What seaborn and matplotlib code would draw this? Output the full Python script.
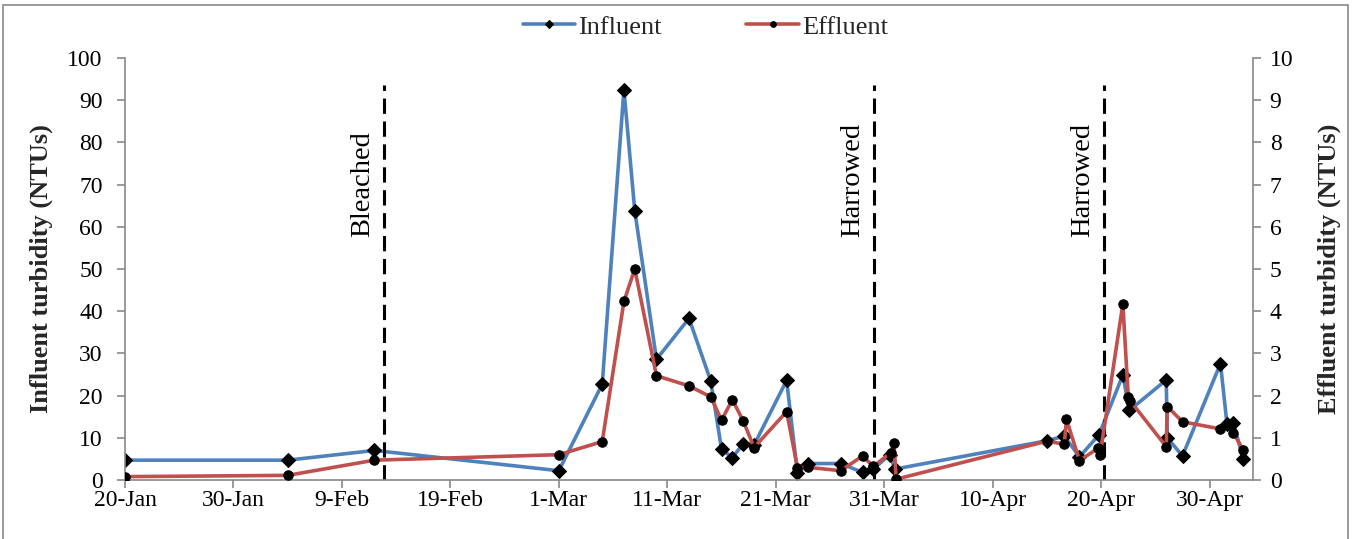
import numpy as np
import pandas as pd
import seaborn as sns
import matplotlib
matplotlib.use("Agg")
import matplotlib.pyplot as plt
from matplotlib.patches import Rectangle

# ---------------- data (days since 20-Jan) ----------------
inf_day = [0, 15, 23, 40, 44, 46, 47, 49, 52, 54, 55, 56, 57, 58, 61, 62, 63, 66, 68, 69,
           70.5, 71.0, 85, 86.6, 88, 89.8, 92, 92.6, 96, 96.1, 97.5, 101, 101.6, 102.2, 103.1]
inf_val = [4.7, 4.7, 7.0, 2.2, 22.7, 92.5, 63.8, 28.6, 38.3, 23.5, 7.3, 5.3, 8.6, 8.3, 23.6, 1.6,
           3.9, 3.9, 1.8, 2.6, 6.0, 2.6, 9.3, 10.4, 5.5, 10.7, 24.9, 16.5, 23.7, 10.0, 5.7, 27.6,
           13.3, 13.4, 5.0]

eff_day = [0, 15, 23, 40, 44, 46, 47, 49, 52, 54, 55, 56, 57, 58, 61, 62, 63, 66, 68, 69,
           70.6, 70.9, 71.1, 85, 86.6, 86.8, 88, 89.7, 89.9, 92, 92.5, 92.7, 96, 96.1, 97.5,
           101, 101.6, 102.2, 103.1]
eff_val = [0.08, 0.11, 0.47, 0.60, 0.91, 4.23, 5.0, 2.47, 2.23, 1.97, 1.42, 1.90, 1.40, 0.77,
           1.62, 0.29, 0.30, 0.22, 0.57, 0.32, 0.65, 0.87, 0.02, 0.92, 0.85, 1.44, 0.46, 0.75,
           0.59, 4.17, 1.97, 1.87, 0.79, 1.74, 1.38, 1.21, 1.30, 1.11, 0.71]

tick_labels = ["20-Jan", "30-Jan", "9-Feb", "19-Feb", "1-Mar", "11-Mar", "21-Mar",
               "31-Mar", "10-Apr", "20-Apr", "30-Apr"]
event_days = [23.9, 69.1, 90.3]
event_labels = ["Bleached", "Harrowed", "Harrowed"]

inf_df = pd.DataFrame({"day": inf_day, "val": inf_val})
eff_df = pd.DataFrame({"day": eff_day, "val": eff_val})

# ---------------- style ----------------
sns.set_theme(style="white")
plt.rcParams["font.family"] = ["Liberation Serif", "DejaVu Serif"]
grey = "#898989"
blue = "#4F81BD"
red = "#C0504D"
TICK_FS = 17
LAB_FS = 19
ANN_FS = 20.5

fig = plt.figure(figsize=(13.54, 5.39), dpi=100)
W, H = 1354, 539
ax = fig.add_axes([125 / W, 59 / H, 1128 / W, 422 / H])
ax2 = ax.twinx()

sns.lineplot(data=inf_df, x="day", y="val", ax=ax, color=blue, lw=2.6, sort=False,
             estimator=None, marker="D", markersize=6.8, markerfacecolor="black",
             markeredgecolor="black", label="Influent", legend=False)
sns.lineplot(data=eff_df, x="day", y="val", ax=ax2, color=red, lw=2.6, sort=False,
             estimator=None, marker="o", markersize=6.8, markerfacecolor="black",
             markeredgecolor="black", label="Effluent", legend=False)

# event lines
for d, lab in zip(event_days, event_labels):
    ax.axvline(d, ymin=0, ymax=0.936, color="black", lw=2.2, dashes=(5, 2.5))
    ax.text(d - 2.0, 57.6, lab, rotation=90, ha="center", va="bottom", fontsize=ANN_FS,
            color="black")

ax.set_xlim(0, 104)
ax.set_ylim(0, 100)
ax2.set_ylim(0, 10)
ax.set_xticks(np.arange(0, 101, 10))
ax.set_xticklabels(tick_labels)
ax.set_yticks(np.arange(0, 101, 10))
ax2.set_yticks(np.arange(0, 11, 1))

for a in (ax, ax2):
    for s in a.spines.values():
        s.set_color(grey)
        s.set_linewidth(1.2)
    a.spines["top"].set_visible(False)
    a.grid(False)
ax.spines["right"].set_visible(False)
ax2.spines["left"].set_visible(False)
ax2.spines["bottom"].set_visible(False)

ax.tick_params(axis="y", left=True, direction="out", length=6, width=1.2, color=grey,
               labelsize=TICK_FS, pad=10, labelcolor="black")
ax.tick_params(axis="x", bottom=True, direction="out", length=6, width=1.2, color=grey,
               labelsize=TICK_FS, pad=1.5, labelcolor="black")
ax2.tick_params(axis="y", right=True, direction="out", length=6, width=1.2, color=grey,
                labelsize=TICK_FS, pad=6, labelcolor="black")

ax.set_xlabel("")
ax.set_ylabel("Influent turbidity (NTUs)", fontsize=LAB_FS, fontweight="bold")
ax.yaxis.set_label_coords(-0.064, 0.5)
ax2.set_ylabel("Effluent turbidity (NTUs)", fontsize=LAB_FS, fontweight="bold", rotation=90)
ax2.yaxis.set_label_coords(1.0576, 0.5)

h1, l1 = ax.get_legend_handles_labels()
h2, l2 = ax2.get_legend_handles_labels()
fig.legend(h1 + h2, l1 + l2, loc="center", bbox_to_anchor=(0.521, 0.95), ncol=2,
           frameon=False, fontsize=LAB_FS, handlelength=2.0, handletextpad=0.12,
           columnspacing=3.2, markerscale=0.6)

fig.patches.append(Rectangle((3 / W, -0.02), 1345 / W, 1 - 5 / H + 0.02,
                             transform=fig.transFigure, fill=False, edgecolor=grey, lw=1.2))

fig.savefig("out.png", dpi=100)
